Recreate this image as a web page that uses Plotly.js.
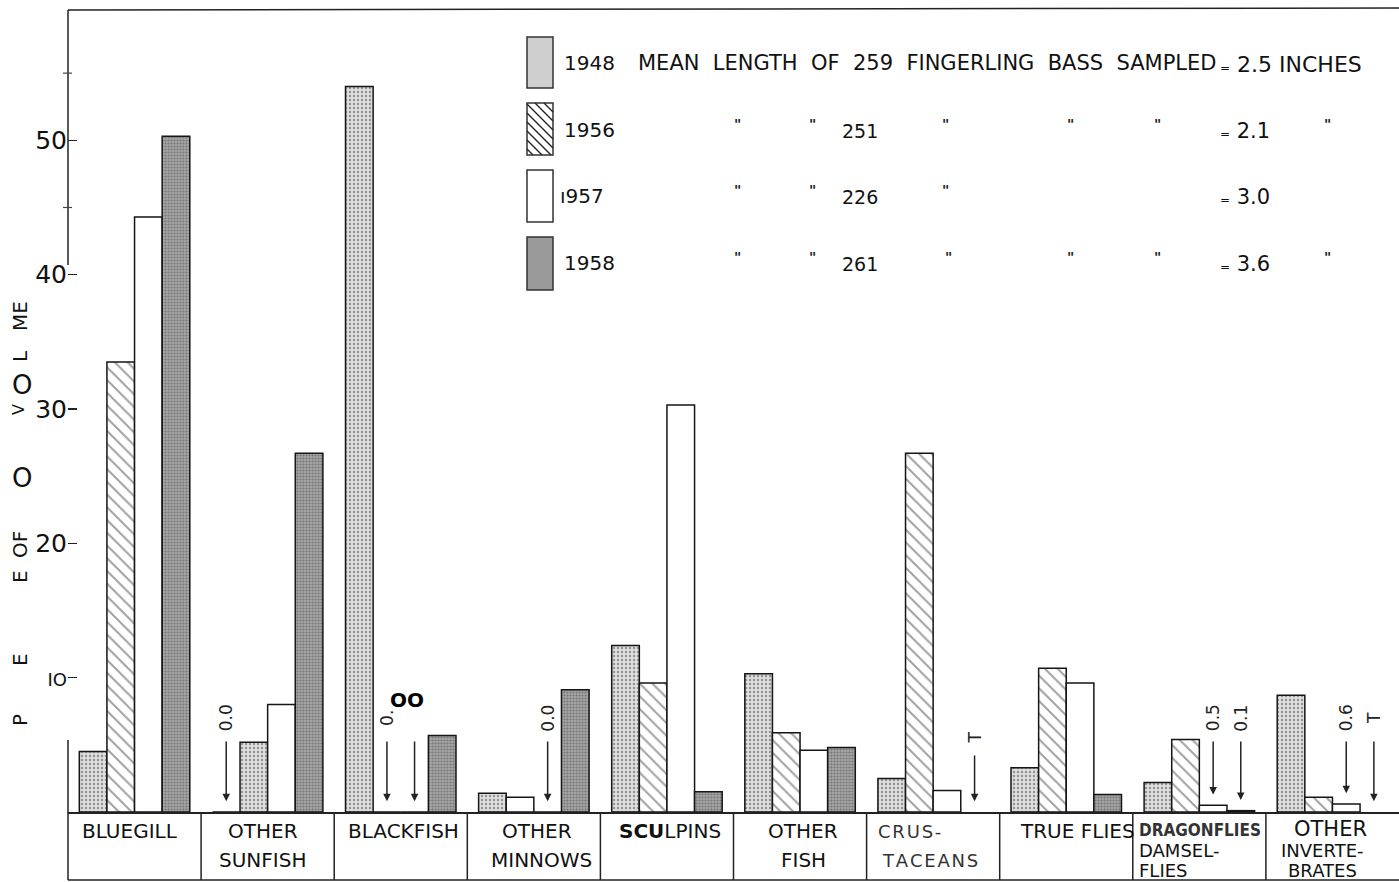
<!DOCTYPE html>
<html>
<head>
<meta charset="utf-8">
<script src="https://cdn.plot.ly/plotly-3.0.1.min.js"></script>
<style>
  html, body { margin: 0; padding: 0; background: #ffffff; }
  #chart { width: 1399px; height: 882px; }
</style>
</head>
<body>
<div id="chart"></div>
<script>
// ---------------- data ----------------
const categories = ['BLUEGILL', 'OTHER SUNFISH', 'BLACKFISH', 'OTHER MINNOWS', 'SCULPINS',
                    'OTHER FISH', 'CRUSTACEANS', 'TRUE FLIES', 'DRAGONFLIES DAMSELFLIES', 'OTHER INVERTEBRATES'];
const categoryLabels = [['BLUEGILL'], ['OTHER', 'SUNFISH'], ['BLACKFISH'], ['OTHER', 'MINNOWS'], ['<b>SCU</b>LPINS'],
                        ['OTHER', 'FISH'], ['CRUS-', 'TACEANS'], ['TRUE FLIES'], ['DRAGONFLIES', 'DAMSEL-', 'FLIES'],
                        ['OTHER', 'INVERTE-', 'BRATES']];
const years = ['1948', '1956', '1957', '1958'];
const v1948 = [4.5, 0, 54.0, 1.4, 12.4, 10.3, 2.5, 3.3, 2.2, 8.7];
const v1956 = [33.5, 5.2, 0, 1.1, 9.6, 5.9, 26.7, 10.7, 5.4, 1.1];
const v1957 = [44.3, 8.0, 0, 0, 30.3, 4.6, 1.6, 9.6, 0.5, 0.6];
const v1958 = [50.3, 26.7, 5.7, 9.1, 1.5, 4.8, null, 1.3, 0.1, null];
// arrow notes (null = no arrow)
const note1948 = [null, '0.0', null, null, null, null, null, null, null, null];
const note1956 = [null, null, '0.', null, null, null, null, null, null, null];
const note1957 = [null, null, '', '0.0', null, null, null, null, '0.5', '0.6'];
const note1958 = [null, null, null, null, null, null, 'T', null, '0.1', 'T'];
// legend
const sampleN = [259, 251, 226, 261];
const meanLength = ['2.5', '2.1', '3.0', '3.6'];
const yTickVals = [10, 20, 30, 40, 50];
const yTickText = ['<span style="font-size:18px">IO</span>', '20', '30', '40', '50'];

// ---------------- styles ----------------
const looks = [
  ['stip','stip','stip','stip','stip','stip','stip','stip','stip','stip'],
  ['hatch','stip','hatch','white','hatch','hatch','hatch','hatch','hatch','hatch'],
  ['white','white','white','white','white','white','white','white','white','white'],
  ['dark','dark','dark','dark','dark','dark','dark','dark','dark','dark']
];
const lookStyle = {
  stip:  {color: '#dedede', shape: '.',  fg: '#2e2e2e', size: 4, sol: 0.27},
  hatch: {color: '#ffffff', shape: '\\', fg: '#111111', size: 9, sol: 0.22},
  white: {color: '#ffffff', shape: '',   fg: '#000000', size: 8, sol: 0.3},
  dark:  {color: '#a6a6a6', shape: '.',  fg: '#737373', size: 3, sol: 0.4}
};
const FONT = 'DejaVu Sans, Verdana, sans-serif';
const X0 = 68, X1 = 1399, Y0 = 812, Y1 = 10;
const YMAX = 59.7;
const px = x => (x - X0) / (X1 - X0);
const py = y => (Y0 - y) / (Y0 - Y1);
const bargap = 0.17;

const series = [v1948, v1956, v1957, v1958];
const notes = [note1948, note1956, note1957, note1958];

const traces = series.map((vals, s) => {
  const st = looks[s].map(k => lookStyle[k]);
  return {
    type: 'bar', name: years[s], x: categories, y: vals,
    marker: {
      color: st.map(o => o.color),
      line: {color: '#151515', width: 1.5},
      pattern: {
        shape: st.map(o => o.shape), fgcolor: st.map(o => o.fg),
        size: st.map(o => o.size), solidity: st.map(o => o.sol), fillmode: 'overlay'
      }
    },
    hoverinfo: 'x+y+name'
  };
});

const ann = [];
const shapes = [];
function txt(x, y, text, size, opt) {
  opt = opt || {};
  ann.push({xref: 'paper', yref: 'paper', x: px(x), y: py(y), text: text, showarrow: false,
            xanchor: opt.anchor || 'left', yanchor: 'middle', textangle: opt.angle || 0,
            font: {family: opt.family || FONT, size: size, color: opt.color || '#111'}});
}

// category labels in the table
const labelShift = [-5, -5, 3, 3, 3, 3, null, 11, null, -8];
const lineY2 = [831, 860];
const lineY3 = [830, 850, 870];
const lineY3b = [829, 850, 870];
categoryLabels.forEach((lines, i) => {
  const ys = lines.length === 3 ? (i === 9 ? lineY3b : lineY3) : lineY2;
  lines.forEach((t, k) => {
    let a = {xref: 'x', yref: 'paper', x: i, y: py(ys[k]), text: t, showarrow: false,
             xanchor: 'center', yanchor: 'middle', borderpad: 0,
             font: {family: FONT, size: 20, color: '#111'}};
    if (i === 6) { a.x = i - 0.5; a.xanchor = 'left'; a.xshift = k === 0 ? 10 : 14;
      a.font = {family: FONT, size: 18, color: '#333'}; a.text = t.split('').join('\u200A'); }
    else if (i === 8) {
      a.x = i - 0.5; a.xanchor = 'left'; a.xshift = 5;
      if (k === 0) { a.font = {family: 'DejaVu Sans Condensed, DejaVu Sans', size: 17, color: '#333'}; a.text = '<b>' + t + '</b>'; a.xshift = 5; }
      else { a.font = {family: FONT, size: 18, color: '#111'}; }
    } else if (i === 9) {
      a.xshift = k === 0 ? -2 : -10;
      a.font = {family: FONT, size: k === 0 ? 21 : 18, color: '#111'};
    } else { a.xshift = labelShift[i] + (i === 3 && k === 1 ? 5 : 0); }
    ann.push(a);
  });
});

// arrows with notes
const w = (1 - bargap) / 4;
const toPx = v => Y0 - v * (Y0 - Y1) / YMAX;
notes.forEach((arr, s) => {
  arr.forEach((t, i) => {
    if (t === null) return;
    const xc = i - (1 - bargap) / 2 + w * (s + 0.5);
    const base = series[s][i] || 0;
    const tip = base + 0.8;
    const tailPx = (i === 6) ? 754 : 740;
    const textPx = (i === 6) ? 738 : 718;
    ann.push({xref: 'x', yref: 'y', x: xc, y: tip, ax: 0, ay: -(toPx(tip) - tailPx),
              text: '', showarrow: true, arrowhead: 2, arrowsize: 1, arrowwidth: 1.5, arrowcolor: '#222', standoff: 0});
    if (t !== '') {
      ann.push({xref: 'x', yref: 'paper', x: xc, y: py(textPx), text: t, showarrow: false, textangle: -90,
                xanchor: 'center', yanchor: 'middle', font: {family: FONT, size: 17, color: '#222'}});
    }
  });
});
// garbled bold label over blackfish arrows
ann.push({xref: 'x', yref: 'paper', x: 2, y: py(700), text: '<b>OO</b>', showarrow: false,
          xanchor: 'center', yanchor: 'middle', xshift: 6, font: {family: FONT, size: 20, color: '#000'}});

// legend text
const NB = '\u00A0';
txt(562, 63, years[0], 20);
txt(636, 63, ['MEAN', 'LENGTH', 'OF', String(sampleN[0]), 'FINGERLING', 'BASS', 'SAMPLED'].join(' ' + NB), 21);
txt(1218, 64, '<span style="font-size:12px">=</span> ' + meanLength[0] + ' INCHES', 22);
const rowsY = [130, 196, 263];
const quoteCols = [[737, 812, 945, 1070, 1157, 1327], [737, 812, 945], [737, 812, 948, 1070, 1157, 1327]];
for (let r = 1; r < 4; r++) {
  const y = rowsY[r - 1];
  txt(r === 2 ? 558 : 562, y, r === 2 ? '\u0131957' : years[r], 20);
  txt(840, y + 1, String(sampleN[r]), 19);
  txt(1218, y + 1, '<span style="font-size:12px">=</span> ' + meanLength[r], 21);
  quoteCols[r - 1].forEach(qx => txt(qx, y - 6, '<b>"</b>', 14, {anchor: 'center', color: '#222'}));
}
// legend swatches
const swY = [[37, 88], [103, 155], [170, 222], [237, 290]];
const swFill = ['#cfcfcf', '#ffffff', '#ffffff', '#9a9a9a'];
swY.forEach((yy, k) => {
  shapes.push({type: 'rect', xref: 'paper', yref: 'paper', x0: px(527), x1: px(553), y0: py(yy[1]), y1: py(yy[0]),
               fillcolor: swFill[k], line: {color: '#333', width: 1.5}, layer: 'above'});
});
// hatch lines in the 1956 swatch
(function () {
  const xa = 527, xb = 553, ya = 103, yb = 155, step = 9;
  let d = '';
  for (let c = ya - (xb - xa); c < yb; c += step) {
    let x1 = xa, y1 = c, x2 = xb, y2 = c + (xb - xa);
    if (y1 < ya) { x1 = xa + (ya - y1); y1 = ya; }
    if (y2 > yb) { x2 = xb - (y2 - yb); y2 = yb; }
    if (x1 >= x2) continue;
    d += 'M' + px(x1) + ',' + py(y1) + 'L' + px(x2) + ',' + py(y2);
  }
  shapes.push({type: 'path', xref: 'paper', yref: 'paper', path: d, line: {color: '#222', width: 1.4}, layer: 'above'});
})();

// y-axis title fragments
txt(20, 720, 'P', 20, {anchor: 'center', angle: -90});
txt(20, 660, 'E', 20, {anchor: 'center', angle: -90});
txt(20, 577, 'E', 20, {anchor: 'center', angle: -90});
txt(20, 545, 'OF', 20, {anchor: 'center', angle: -90});
txt(22, 478, 'O', 26, {anchor: 'center'});
txt(18, 410, 'V', 16, {anchor: 'center', angle: -90});
txt(22, 385, 'O', 26, {anchor: 'center'});
txt(20, 356, 'L', 20, {anchor: 'center', angle: -90});
txt(20, 316, 'ME', 20, {anchor: 'center', angle: -90});

// frame lines
shapes.push({type: 'line', xref: 'paper', yref: 'paper', x0: 0, x1: 1, y0: py(10), y1: py(8), line: {color: '#222', width: 1.5}});
shapes.push({type: 'line', xref: 'paper', yref: 'paper', x0: 0, x1: 0, y0: py(10), y1: py(265), line: {color: '#222', width: 1.5}});
shapes.push({type: 'line', xref: 'paper', yref: 'paper', x0: 0, x1: 0, y0: py(740), y1: py(880), line: {color: '#222', width: 1.5}});
[45, 55].forEach(v => shapes.push({type: 'line', xref: 'paper', yref: 'y', x0: px(63), x1: px(72), y0: v, y1: v, line: {color: '#444', width: 1.2}}));
for (let i = 1; i < categories.length; i++) {
  shapes.push({type: 'line', xref: 'x', yref: 'paper', x0: i - 0.5, x1: i - 0.5, y0: py(812), y1: py(880), line: {color: '#222', width: 1.5}});
}
shapes.push({type: 'line', xref: 'paper', yref: 'paper', x0: 0, x1: 1, y0: py(880), y1: py(880), line: {color: '#222', width: 1.5}});

const layout = {
  width: 1399, height: 882,
  margin: {l: 68, r: 0, t: 10, b: 70},
  paper_bgcolor: '#ffffff', plot_bgcolor: '#ffffff',
  barmode: 'group', bargap: bargap, bargroupgap: 0,
  showlegend: false,
  xaxis: {type: 'category', showticklabels: false, ticks: '', showgrid: false, zeroline: false,
          showline: true, linecolor: '#222', linewidth: 1.5, range: [-0.5, categories.length - 0.5]},
  yaxis: {range: [0, YMAX], showgrid: false, zeroline: false, showline: false,
          tickmode: 'array', tickvals: yTickVals, ticktext: yTickText,
          ticks: 'inside', ticklen: 9, tickwidth: 1.5, tickcolor: '#222',
          tickfont: {family: FONT, size: 25, color: '#111'}},
  annotations: ann,
  shapes: shapes
};
Plotly.newPlot('chart', traces, layout, {displayModeBar: false, staticPlot: true});
</script>
</body>
</html>
